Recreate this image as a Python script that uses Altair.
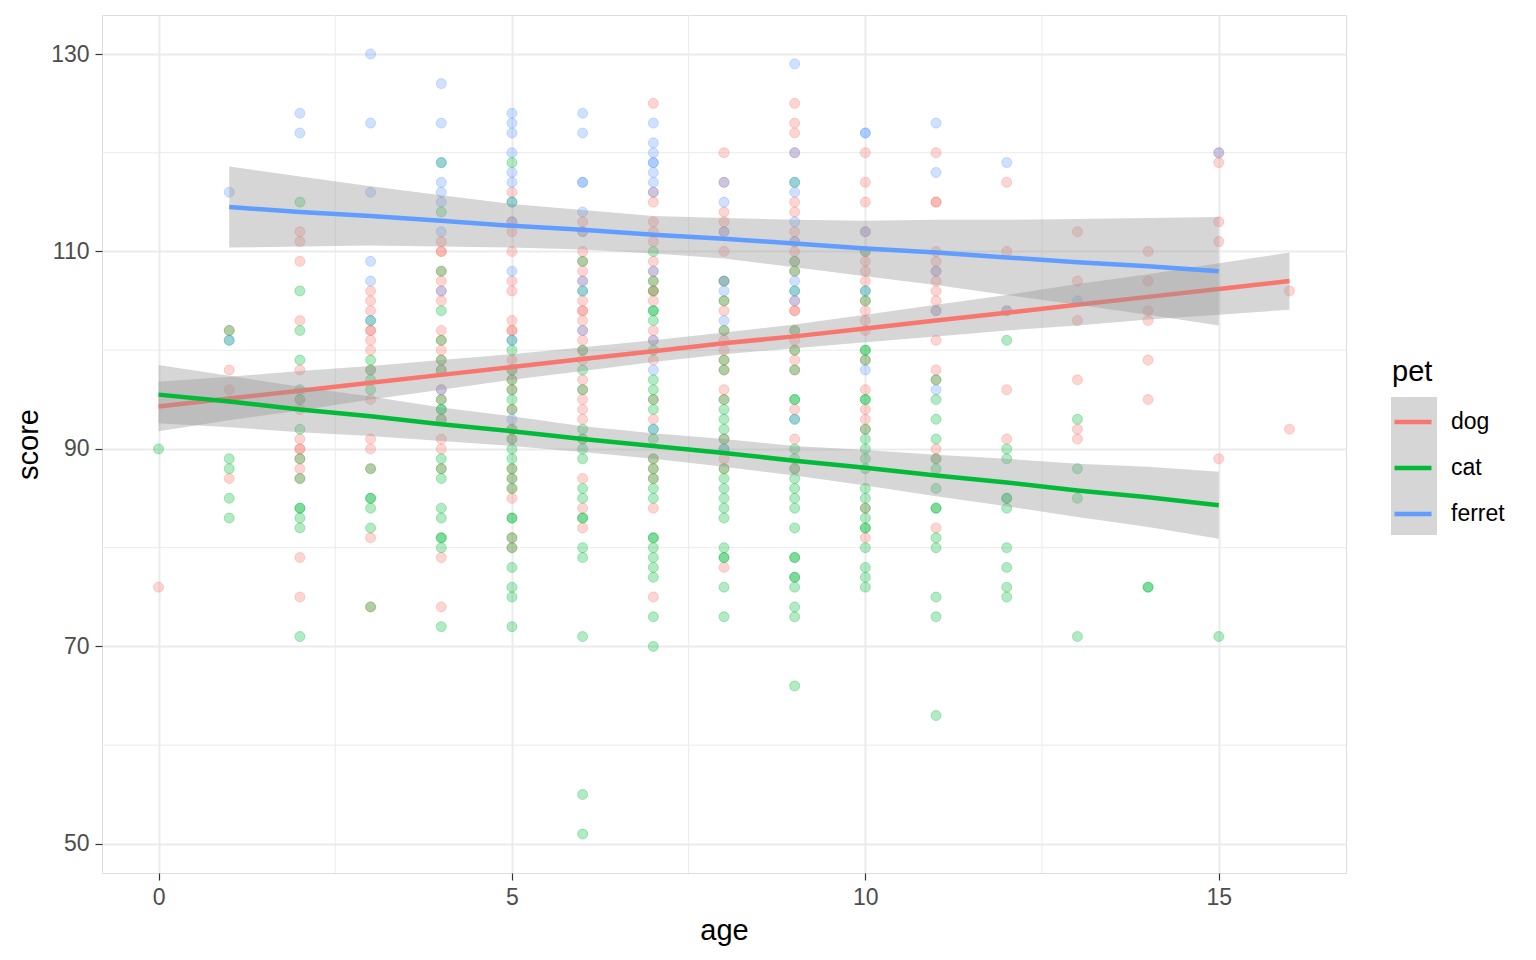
import altair as alt
import pandas as pd

# ---------------- data ----------------
pets = ["dog", "cat", "ferret"]
pet_colors = ["#F8766D", "#00BA38", "#619CFF"]

dog_scores = {
    0: [76],
    1: [102, 98, 96, 87],
    2: [112, 111, 109, 103, 98, 95, 94, 91, 90, 90, 89, 88, 87, 79, 75],
    3: [106, 105, 104, 102, 102, 101, 100, 98, 95, 91, 90, 88, 81, 74],
    4: [111, 110, 110, 108, 107, 106, 105, 102, 101, 100, 99, 98, 96, 95, 93, 91, 90, 88, 79, 74],
    5: [116, 113, 112, 110, 107, 106, 103, 102, 102, 99, 98, 97, 96, 94, 92, 91, 88, 87, 86, 85, 81, 80],
    6: [113, 112, 110, 109, 108, 107, 105, 104, 104, 103, 102, 101, 100, 99, 97, 96, 95, 94, 93, 91, 87, 84, 82],
    7: [125, 116, 115, 113, 112, 111, 109, 108, 107, 106, 106, 105, 102, 101, 99, 95, 93, 89, 88, 87, 84, 75],
    8: [120, 117, 114, 113, 112, 110, 107, 105, 104, 102, 101, 100, 99, 98, 96, 95, 91, 89, 88, 78],
    9: [125, 123, 122, 120, 115, 114, 112, 111, 110, 109, 108, 105, 104, 104, 102, 101, 100, 99, 98, 94, 91, 88],
    10: [120, 117, 115, 112, 110, 109, 108, 107, 105, 104, 103, 102, 99, 96, 94, 93, 92, 84, 81],
    11: [120, 115, 115, 110, 109, 108, 107, 106, 105, 104, 101, 98, 97, 90, 89, 82],
    12: [117, 110, 104, 96, 91],
    13: [112, 107, 103, 97, 92, 91],
    14: [110, 107, 104, 103, 99, 95],
    15: [120, 119, 113, 111, 89],
    16: [106, 92],
}

cat_scores = {
    0: [90],
    1: [102, 101, 89, 88, 85, 83],
    2: [115, 106, 102, 99, 96, 95, 92, 89, 87, 84, 84, 83, 82, 71],
    3: [103, 99, 98, 97, 96, 88, 85, 85, 84, 82, 74],
    4: [119, 114, 108, 104, 101, 99, 98, 95, 94, 94, 93, 89, 88, 87, 84, 83, 81, 81, 80, 72],
    5: [119, 115, 101, 100, 98, 97, 96, 95, 94, 92, 91, 90, 89, 88, 87, 86, 83, 83, 81, 80, 78, 76, 75, 72],
    6: [109, 106, 100, 98, 96, 92, 91, 90, 89, 86, 85, 83, 83, 80, 79, 71, 55, 51],
    7: [110, 107, 106, 104, 104, 103, 100, 97, 96, 95, 94, 92, 91, 89, 88, 87, 86, 85, 81, 81, 80, 79, 78, 77, 73, 70],
    8: [107, 105, 102, 99, 98, 95, 94, 93, 92, 91, 90, 88, 87, 86, 85, 84, 83, 80, 79, 79, 76, 73],
    9: [117, 109, 108, 106, 102, 100, 98, 95, 95, 93, 90, 89, 88, 87, 86, 85, 84, 82, 79, 79, 77, 77, 76, 74, 73, 66],
    10: [110, 106, 105, 100, 100, 99, 95, 95, 92, 91, 90, 89, 88, 86, 85, 84, 83, 82, 82, 80, 78, 77, 76],
    11: [97, 95, 93, 91, 89, 88, 86, 84, 84, 81, 80, 75, 73, 63],
    12: [101, 90, 89, 85, 85, 84, 80, 78, 76, 75],
    13: [93, 88, 85, 71],
    14: [76, 76],
    15: [71],
}

ferret_scores = {
    1: [116, 101],
    2: [124, 122],
    3: [130, 123, 116, 109, 107, 103],
    4: [127, 123, 119, 117, 116, 115, 112, 106, 96],
    5: [124, 123, 122, 120, 118, 117, 115, 113, 108, 101, 93],
    6: [124, 122, 117, 117, 114, 112, 107, 106, 102],
    7: [123, 121, 120, 119, 119, 118, 117, 116, 108, 101, 98, 92],
    8: [117, 115, 112, 107, 106, 103, 90],
    9: [129, 120, 117, 116, 113, 111, 107, 106, 105, 93],
    10: [122, 122, 112, 106, 98],
    11: [123, 118, 108, 104, 96],
    12: [119, 104],
    13: [105],
    15: [120],
}

# fitted lines and confidence bands
dog_fit_age = [0, 1, 2, 3, 4, 5, 6, 7, 8, 9, 10, 11, 12, 13, 14, 15, 16]
dog_fit = [94.3, 95.1, 95.9, 96.7, 97.5, 98.3, 99.1, 99.9, 100.7, 101.4, 102.2, 103.0, 103.8, 104.6, 105.4, 106.2, 107.0]
dog_lo = [91.8, 92.9, 93.9, 95.0, 96.0, 97.0, 97.9, 98.8, 99.6, 100.2, 100.8, 101.4, 102.0, 102.5, 103.1, 103.6, 104.1]
dog_hi = [96.8, 97.3, 97.9, 98.4, 99.0, 99.6, 100.3, 101.0, 101.8, 102.6, 103.6, 104.6, 105.6, 106.7, 107.7, 108.8, 109.9]

cat_fit_age = [0, 1, 2, 3, 4, 5, 6, 7, 8, 9, 10, 11, 12, 13, 14, 15]
cat_fit = [95.5, 94.8, 94.0, 93.3, 92.5, 91.8, 91.0, 90.3, 89.6, 88.8, 88.1, 87.3, 86.6, 85.8, 85.1, 84.3]
cat_lo = [92.6, 92.2, 91.7, 91.3, 90.8, 90.3, 89.7, 89.0, 88.2, 87.3, 86.3, 85.2, 84.2, 83.1, 82.1, 80.9]
cat_hi = [98.5, 97.4, 96.3, 95.3, 94.2, 93.3, 92.3, 91.6, 91.0, 90.3, 89.9, 89.4, 89.0, 88.5, 88.2, 87.7]

ferret_fit_age = [1, 2, 3, 4, 5, 6, 7, 8, 9, 10, 11, 12, 13, 14, 15]
ferret_fit = [114.5, 114.0, 113.6, 113.1, 112.6, 112.2, 111.7, 111.3, 110.8, 110.3, 109.9, 109.4, 108.9, 108.5, 108.0]
ferret_lo = [110.4, 110.5, 110.6, 110.5, 110.4, 110.2, 109.8, 109.3, 108.4, 107.5, 106.6, 105.6, 104.6, 103.6, 102.5]
ferret_hi = [118.6, 117.6, 116.6, 115.7, 114.8, 114.2, 113.6, 113.4, 113.2, 113.1, 113.2, 113.2, 113.3, 113.4, 113.5]

x_major = [0, 5, 10, 15]
x_minor = [2.5, 7.5, 12.5]
y_major = [50, 70, 90, 110, 130]
y_minor = [60, 80, 100, 120]

# ---------------- tables ----------------
rows = []
for pet, d in zip(pets, [dog_scores, cat_scores, ferret_scores]):
    for age, scores in d.items():
        for s in scores:
            rows.append({"pet": pet, "age": age, "score": s})
points_df = pd.DataFrame(rows)

fits = {
    "dog": (dog_fit_age, dog_fit, dog_lo, dog_hi),
    "cat": (cat_fit_age, cat_fit, cat_lo, cat_hi),
    "ferret": (ferret_fit_age, ferret_fit, ferret_lo, ferret_hi),
}

FONT = "Liberation Sans"
xs = alt.Scale(domain=[-0.8, 16.8], nice=False, zero=False)
ys = alt.Scale(domain=[47.05, 133.95], nice=False, zero=False)
cs = alt.Scale(domain=pets, range=pet_colors)

common_axis = dict(
    grid=True, gridColor="#ebebeb", gridWidth=2, domain=False,
    tickColor="#333333", tickSize=7, tickWidth=1.2,
    labelColor="#4d4d4d", labelFont=FONT, labelFontSize=23, labelPadding=6,
    titleFont=FONT, titleFontSize=29, titleFontWeight="normal", titleColor="#000000",
    titlePadding=7,
)
x_axis = alt.Axis(values=x_major, title="age", **common_axis)
y_axis = alt.Axis(values=y_major, title="score", **common_axis)

legend = alt.Legend(
    title="pet", orient="none", legendX=1290, legendY=343,
    symbolType="stroke", symbolSize=1369, symbolStrokeWidth=4.5, symbolOpacity=1,
    labelFontSize=23, titleFontSize=29, titleFontWeight="normal", labelColor="#000000",
    titleColor="#000000", rowPadding=13, titlePadding=14, labelOffset=17, padding=0,
    labelFont=FONT, titleFont=FONT,
)
color_enc = alt.Color("pet:N", scale=cs, legend=legend)

minor_v = alt.Chart(pd.DataFrame({"v": x_minor})).mark_rule(color="#ebebeb", strokeWidth=1).encode(
    x=alt.X("v:Q", scale=xs, axis=x_axis))
minor_h = alt.Chart(pd.DataFrame({"v": y_minor})).mark_rule(color="#ebebeb", strokeWidth=1).encode(
    y=alt.Y("v:Q", scale=ys, axis=y_axis))

pts_fill = alt.Chart(points_df).mark_circle(size=100, opacity=0.3).encode(
    x=alt.X("age:Q", scale=xs, axis=x_axis),
    y=alt.Y("score:Q", scale=ys, axis=y_axis),
    color=color_enc,
)
pts_ring = alt.Chart(points_df).mark_point(shape="circle", filled=False, size=100, opacity=0.3,
                                           strokeWidth=1).encode(
    x=alt.X("age:Q", scale=xs, axis=x_axis),
    y=alt.Y("score:Q", scale=ys, axis=y_axis),
    color=color_enc,
)

layers = [minor_v, minor_h, pts_fill, pts_ring]
for pet in pets:
    fa, ff, fl, fh = fits[pet]
    df = pd.DataFrame({"age": fa, "fit": ff, "lo": fl, "hi": fh, "pet": pet})
    band = alt.Chart(df).mark_area(color="#999999", opacity=0.4).encode(
        x=alt.X("age:Q", scale=xs, axis=x_axis),
        y=alt.Y("lo:Q", scale=ys, axis=y_axis),
        y2="hi:Q",
    )
    line = alt.Chart(df).mark_line(strokeWidth=4.5).encode(
        x=alt.X("age:Q", scale=xs, axis=x_axis),
        y=alt.Y("fit:Q", scale=ys, axis=y_axis),
        color=color_enc,
    )
    layers += [band, line]

key_bg = alt.Chart(pd.DataFrame({"k": [0]})).mark_rect(color="#999999", opacity=0.4).encode(
    x=alt.value(1289), x2=alt.value(1335), y=alt.value(382), y2=alt.value(520))
layers = [key_bg] + layers

chart = alt.layer(*layers).properties(
    width=1244, height=858,
    autosize=alt.AutoSizeParams(type="none"),
    padding={"left": 94, "top": 7, "right": 180, "bottom": 78},
).configure_view(
    stroke="#333333", strokeWidth=1
).configure(background="white")

chart.save("out.html", embed_options={"renderer": "svg", "actions": False})
